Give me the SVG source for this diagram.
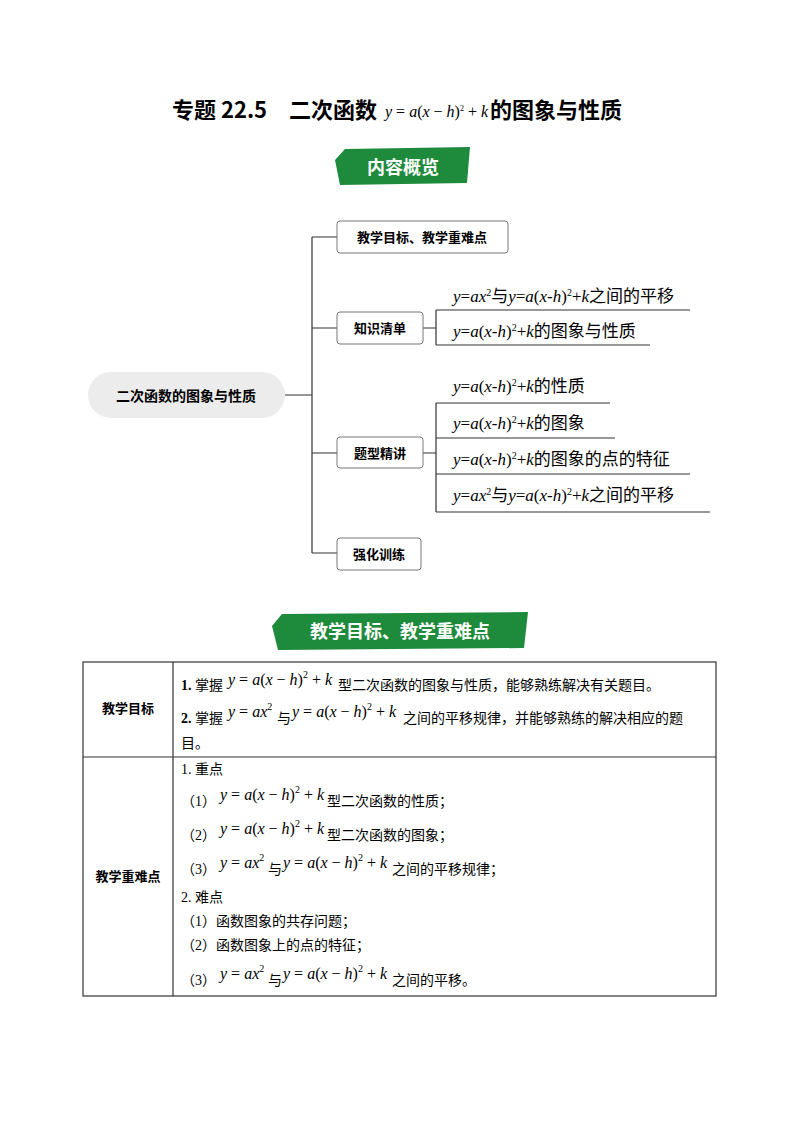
<svg xmlns="http://www.w3.org/2000/svg" width="800" height="1132" viewBox="0 0 800 1132">
<style>
.cn{font-family:"Liberation Serif","Noto Sans CJK SC",serif;}
.b{font-family:"Noto Sans CJK SC",sans-serif;font-weight:bold;}
.m{font-family:"Liberation Serif","Noto Sans CJK SC",serif;font-size:17px;}
.i{font-style:italic;}
.ln{stroke:#333;stroke-width:1.2;fill:none;}
.box{fill:#fff;stroke:#777;stroke-width:1;}
.t{font-family:"Liberation Serif","Noto Sans CJK SC",serif;font-size:14px;}
.tm{font-family:"Liberation Serif",serif;font-size:16px;font-style:italic;}
</style>
<rect width="800" height="1132" fill="#fff"/>
<g id="title">
<text x="172" y="118" class="b" font-size="22" font-family="Liberation Serif,Noto Sans CJK SC,serif">专题 22.5　二次函数</text>
<text x="385" y="117" class="tm" font-size="12">y<tspan font-style="normal"> = </tspan>a<tspan font-style="normal">(</tspan>x<tspan font-style="normal"> − </tspan>h<tspan font-style="normal">)</tspan><tspan dy="-6" font-size="8" font-style="normal">2</tspan><tspan dy="6" font-style="normal"> + </tspan>k</text>
<text x="490" y="118" class="b" font-size="22">的图象与性质</text>
</g>
<g id="banner1">
<polygon points="345,149 470,147 467,183 340,185 335,160" fill="#1e8a3c"/>
<text x="403" y="174" class="b" font-size="18" fill="#fff" text-anchor="middle">内容概览</text>
</g>
<g id="connectors">
<path class="ln" d="M285,395 H312 M312,237 V553 M312,237 H337 M312,328 H337 M312,453 H337 M312,553 H337"/>
<path class="ln" d="M423,328 H436 M436,310 V345 M436,310 H690 M436,345 H650"/>
<path class="ln" d="M423,453 H436 M436,403 V512 M436,403 H610 M436,438 H615 M436,474 H690 M436,512 H710"/>
</g>
<g id="root"><rect x="88" y="372" width="197" height="46" rx="23" fill="#ececec"/>
<text x="186" y="401" class="b" font-size="14" text-anchor="middle">二次函数的图象与性质</text></g>
<g id="n1"><rect class="box" x="337" y="221" width="171" height="32" rx="3"/><text x="422" y="242" class="b" font-size="13" text-anchor="middle">教学目标、教学重难点</text></g>
<g id="n2"><rect class="box" x="337" y="312" width="86" height="32" rx="3"/><text x="380" y="333" class="b" font-size="13" text-anchor="middle">知识清单</text></g>
<g id="n3"><rect class="box" x="337" y="437" width="86" height="31" rx="3"/><text x="380" y="458" class="b" font-size="13" text-anchor="middle">题型精讲</text></g>
<g id="n4"><rect class="box" x="337" y="538" width="84" height="32" rx="3"/><text x="379" y="559" class="b" font-size="13" text-anchor="middle">强化训练</text></g>
<g id="leaf1"><text x="453" y="302" class="m"><tspan class="i">y</tspan>=<tspan class="i">ax</tspan><tspan dy="-6" font-size="10">2</tspan><tspan dy="6">与</tspan><tspan class="i">y</tspan>=<tspan class="i">a</tspan>(<tspan class="i">x</tspan>-<tspan class="i">h</tspan>)<tspan dy="-6" font-size="10">2</tspan><tspan dy="6">+</tspan><tspan class="i">k</tspan>之间的平移</text></g>
<g id="leaf2"><text x="453" y="337" class="m"><tspan class="i">y</tspan>=<tspan class="i">a</tspan>(<tspan class="i">x</tspan>-<tspan class="i">h</tspan>)<tspan dy="-6" font-size="10">2</tspan><tspan dy="6">+</tspan><tspan class="i">k</tspan>的图象与性质</text></g>
<g id="leaf3"><text x="453" y="392" class="m"><tspan class="i">y</tspan>=<tspan class="i">a</tspan>(<tspan class="i">x</tspan>-<tspan class="i">h</tspan>)<tspan dy="-6" font-size="10">2</tspan><tspan dy="6">+</tspan><tspan class="i">k</tspan>的性质</text></g>
<g id="leaf4"><text x="453" y="429" class="m"><tspan class="i">y</tspan>=<tspan class="i">a</tspan>(<tspan class="i">x</tspan>-<tspan class="i">h</tspan>)<tspan dy="-6" font-size="10">2</tspan><tspan dy="6">+</tspan><tspan class="i">k</tspan>的图象</text></g>
<g id="leaf5"><text x="453" y="465" class="m"><tspan class="i">y</tspan>=<tspan class="i">a</tspan>(<tspan class="i">x</tspan>-<tspan class="i">h</tspan>)<tspan dy="-6" font-size="10">2</tspan><tspan dy="6">+</tspan><tspan class="i">k</tspan>的图象的点的特征</text></g>
<g id="leaf6"><text x="453" y="501" class="m"><tspan class="i">y</tspan>=<tspan class="i">ax</tspan><tspan dy="-6" font-size="10">2</tspan><tspan dy="6">与</tspan><tspan class="i">y</tspan>=<tspan class="i">a</tspan>(<tspan class="i">x</tspan>-<tspan class="i">h</tspan>)<tspan dy="-6" font-size="10">2</tspan><tspan dy="6">+</tspan><tspan class="i">k</tspan>之间的平移</text></g>
<g id="banner2">
<polygon points="282,614 528,612 524,648 278,650 272,626" fill="#1e8a3c"/>
<text x="400" y="638" class="b" font-size="18" fill="#fff" text-anchor="middle">教学目标、教学重难点</text>
</g>
<g id="table">
<rect x="83" y="662" width="633" height="334" fill="none" stroke="#333" stroke-width="1.2"/>
<line x1="83" y1="757" x2="716" y2="757" stroke="#333" stroke-width="1.2"/>
<line x1="173" y1="662" x2="173" y2="996" stroke="#333" stroke-width="1.2"/>
<text x="128" y="713" class="b" font-size="13" text-anchor="middle">教学目标</text>
<text x="128" y="881" class="b" font-size="13" text-anchor="middle">教学重难点</text>
<text x="181" y="690" class="t"><tspan font-weight="bold">1.</tspan> 掌握</text>
<text x="228" y="685" class="tm"><tspan>y</tspan><tspan font-style="normal"> = </tspan>a<tspan font-style="normal">(</tspan>x<tspan font-style="normal"> − </tspan>h<tspan font-style="normal">)</tspan><tspan dy="-7" font-size="10" font-style="normal">2</tspan><tspan dy="7" font-style="normal"> + </tspan>k</text>
<text x="338" y="690" class="t">型二次函数的图象与性质，能够熟练解决有关题目。</text>
<text x="181" y="723" class="t"><tspan font-weight="bold">2.</tspan> 掌握</text>
<text x="228" y="717" class="tm">y<tspan font-style="normal"> = </tspan>ax<tspan dy="-7" font-size="10" font-style="normal">2</tspan></text>
<text x="277" y="723" class="t">与</text>
<text x="292" y="717" class="tm">y<tspan font-style="normal"> = </tspan>a<tspan font-style="normal">(</tspan>x<tspan font-style="normal"> − </tspan>h<tspan font-style="normal">)</tspan><tspan dy="-7" font-size="10" font-style="normal">2</tspan><tspan dy="7" font-style="normal"> + </tspan>k</text>
<text x="403" y="723" class="t">之间的平移规律，并能够熟练的解决相应的题</text>
<text x="181" y="748" class="t">目。</text>
<text x="181" y="774" class="t">1. 重点</text>
<text x="181" y="806" class="t">（1）</text>
<text x="220" y="800" class="tm">y<tspan font-style="normal"> = </tspan>a<tspan font-style="normal">(</tspan>x<tspan font-style="normal"> − </tspan>h<tspan font-style="normal">)</tspan><tspan dy="-7" font-size="10" font-style="normal">2</tspan><tspan dy="7" font-style="normal"> + </tspan>k</text>
<text x="327" y="806" class="t" font-size="13">型二次函数的性质；</text>
<text x="181" y="840" class="t">（2）</text>
<text x="220" y="834" class="tm">y<tspan font-style="normal"> = </tspan>a<tspan font-style="normal">(</tspan>x<tspan font-style="normal"> − </tspan>h<tspan font-style="normal">)</tspan><tspan dy="-7" font-size="10" font-style="normal">2</tspan><tspan dy="7" font-style="normal"> + </tspan>k</text>
<text x="327" y="840" class="t" font-size="13">型二次函数的图象；</text>
<text x="181" y="874" class="t">（3）</text>
<text x="220" y="868" class="tm">y<tspan font-style="normal"> = </tspan>ax<tspan dy="-7" font-size="10" font-style="normal">2</tspan></text>
<text x="268" y="874" class="t" font-size="13">与</text>
<text x="283" y="868" class="tm">y<tspan font-style="normal"> = </tspan>a<tspan font-style="normal">(</tspan>x<tspan font-style="normal"> − </tspan>h<tspan font-style="normal">)</tspan><tspan dy="-7" font-size="10" font-style="normal">2</tspan><tspan dy="7" font-style="normal"> + </tspan>k</text>
<text x="392" y="874" class="t" font-size="13">之间的平移规律；</text>
<text x="181" y="902" class="t">2. 难点</text>
<text x="181" y="926" class="t">（1）函数图象的共存问题；</text>
<text x="181" y="950" class="t">（2）函数图象上的点的特征；</text>
<text x="181" y="985" class="t">（3）</text>
<text x="220" y="979" class="tm">y<tspan font-style="normal"> = </tspan>ax<tspan dy="-7" font-size="10" font-style="normal">2</tspan></text>
<text x="268" y="985" class="t" font-size="13">与</text>
<text x="283" y="979" class="tm">y<tspan font-style="normal"> = </tspan>a<tspan font-style="normal">(</tspan>x<tspan font-style="normal"> − </tspan>h<tspan font-style="normal">)</tspan><tspan dy="-7" font-size="10" font-style="normal">2</tspan><tspan dy="7" font-style="normal"> + </tspan>k</text>
<text x="392" y="985" class="t" font-size="13">之间的平移。</text>
</g>
</svg>
